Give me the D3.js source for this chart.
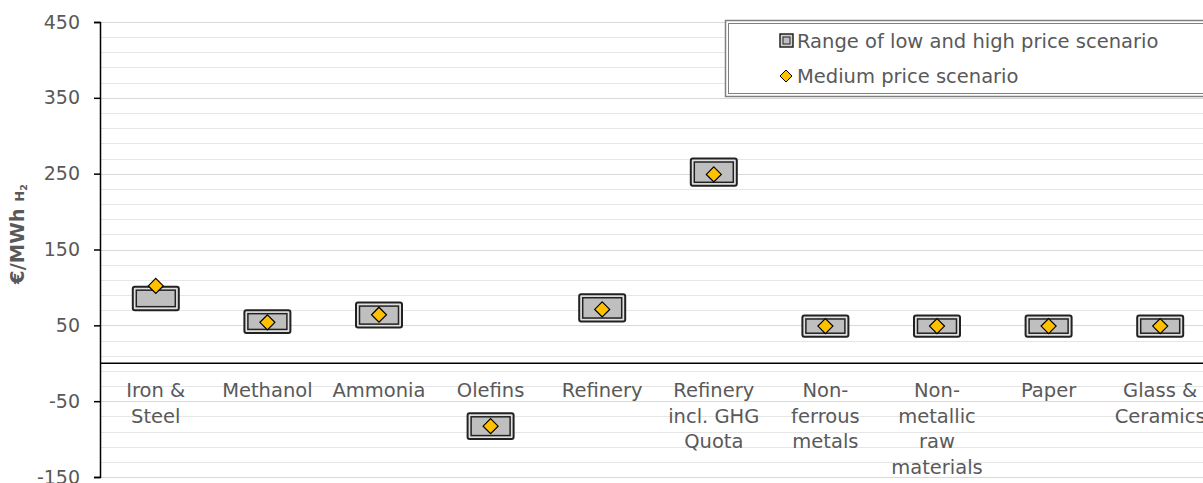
<!DOCTYPE html>
<meta charset="utf-8">
<head>
  <title>Hydrogen willingness to pay</title>
</head>
<style>
  body { margin: 0; background: #fff; }
  text { font-family: "DejaVu Sans", "Open Sans", sans-serif; fill: #595959; }
</style>
<body>
  <svg width="1203" height="483"></svg>

  <script src="https://cdnjs.cloudflare.com/ajax/libs/d3/7.8.5/d3.min.js"></script>
  <script>
  // categories, low/high range and medium scenario (EUR/MWh H2)
  var categories = ["Iron &\nSteel", "Methanol", "Ammonia", "Olefins", "Refinery",
    "Refinery\nincl. GHG\nQuota", "Non-\nferrous\nmetals", "Non-\nmetallic\nraw\nmaterials",
    "Paper", "Glass &\nCeramics"];
  var lowPrice = [70, 40, 47, -100, 55, 234, 35, 35, 35, 35];
  var highPrice = [101, 70, 80, -66, 91, 270, 63, 63, 63, 63];
  var mediumPrice = [102, 54, 64, -83, 71, 249, 49, 49, 49, 49];
  var yTicks = [-150, -50, 50, 150, 250, 350, 450];

  var svg = d3.select('svg');

  var x = d3.scaleBand().domain(categories).range([100, 1216]).padding(0);
  var y = d3.scaleLinear().domain([-150, 450]).range([477, 22]);

  // gridlines: minor every 20, major at ticks
  var minor = d3.range(-150, 451, 20);
  svg.append('g').selectAll('line')
    .data(minor)
    .enter().append('line')
    .attr('x1', 100).attr('x2', 1203)
    .attr('y1', function(d) { return Math.round(y(d)) + 0.5; })
    .attr('y2', function(d) { return Math.round(y(d)) + 0.5; })
    .attr('stroke', '#e6e6e6').attr('stroke-width', 1);

  svg.append('g').selectAll('line')
    .data(yTicks)
    .enter().append('line')
    .attr('x1', 100).attr('x2', 1203)
    .attr('y1', function(d) { return Math.round(y(d)) + 0.5; })
    .attr('y2', function(d) { return Math.round(y(d)) + 0.5; })
    .attr('stroke', '#d9d9d9').attr('stroke-width', 1.2);

  // y axis
  var yAxis = d3.axisLeft(y).tickValues(yTicks).tickSize(6).tickPadding(14)
    .tickFormat(function(d) { return String(d); });
  var ga = svg.append('g').attr('transform', 'translate(100,0)').call(yAxis);
  ga.select('.domain').attr('stroke', '#000').attr('stroke-width', 1.5);
  ga.selectAll('.tick line').attr('stroke', '#000').attr('stroke-width', 1.5);
  ga.selectAll('.tick text').style('font-size', '19px').style('font-family', '"DejaVu Sans", sans-serif').attr('fill', '#595959');

  // zero line
  svg.append('line')
    .attr('x1', 100).attr('x2', 1203)
    .attr('y1', y(0)).attr('y2', y(0))
    .attr('stroke', '#000').attr('stroke-width', 1.5);

  // y title
  var yt = svg.append('text')
    .attr('transform', 'translate(24,' + 234 + ') rotate(-90)')
    .attr('text-anchor', 'middle')
    .style('font-size', '19.5px').style('font-weight', 'bold');
  yt.append('tspan').text('€/MWh ');
  yt.append('tspan').style('font-size', '13px').text('H');
  yt.append('tspan').style('font-size', '9.5px').attr('dy', 3).text('2');

  // category labels
  var lab = svg.append('g').selectAll('text')
    .data(categories)
    .enter().append('text')
    .attr('text-anchor', 'middle')
    .style('font-size', '19.5px');
  lab.each(function(d) {
    var t = d3.select(this);
    d.split('\n').forEach(function(s, i) {
      t.append('tspan')
        .attr('x', x(d) + x.bandwidth() / 2)
        .attr('y', 397 + i * 25.5)
        .text(s);
    });
  });

  // range boxes (double border)
  var bw = 46;
  var boxes = svg.append('g').selectAll('g')
    .data(categories)
    .enter().append('g');
  boxes.append('rect')
    .attr('x', function(d) { return x(d) + x.bandwidth() / 2 - bw / 2; })
    .attr('y', function(d, i) { return y(highPrice[i]); })
    .attr('width', bw)
    .attr('height', function(d, i) { return y(lowPrice[i]) - y(highPrice[i]); })
    .attr('rx', 2)
    .attr('fill', '#e0e0e0').attr('stroke', '#222').attr('stroke-width', 2);
  boxes.append('rect')
    .attr('x', function(d) { return x(d) + x.bandwidth() / 2 - bw / 2 + 3.5; })
    .attr('y', function(d, i) { return y(highPrice[i]) + 3.5; })
    .attr('width', bw - 7)
    .attr('height', function(d, i) { return y(lowPrice[i]) - y(highPrice[i]) - 7; })
    .attr('fill', '#bfbfbf').attr('stroke', '#222').attr('stroke-width', 1.5);

  // medium scenario diamonds
  var ds = 7.5;
  svg.append('g').selectAll('path')
    .data(categories)
    .enter().append('path')
    .attr('transform', function(d, i) {
      return 'translate(' + (x(d) + x.bandwidth() / 2) + ',' + y(mediumPrice[i]) + ')';
    })
    .attr('d', 'M0,' + (-ds) + 'L' + ds + ',0L0,' + ds + 'L' + (-ds) + ',0Z')
    .attr('fill', '#ffc000').attr('stroke', '#000').attr('stroke-width', 1.2);

  // legend
  var lg = svg.append('g');
  lg.append('rect').attr('x', 725.5).attr('y', 20.5).attr('width', 500).attr('height', 76)
    .attr('fill', '#fff').attr('stroke', '#808080').attr('stroke-width', 1.5);
  lg.append('rect').attr('x', 728.5).attr('y', 23.5).attr('width', 500).attr('height', 70)
    .attr('fill', 'none').attr('stroke', '#808080').attr('stroke-width', 1);
  lg.append('rect').attr('x', 780).attr('y', 34).attr('width', 13).attr('height', 13)
    .attr('fill', '#d0d0d0').attr('stroke', '#222').attr('stroke-width', 1.5);
  lg.append('rect').attr('x', 783).attr('y', 37).attr('width', 7).attr('height', 7)
    .attr('fill', '#bfbfbf').attr('stroke', '#222').attr('stroke-width', 1);
  lg.append('path').attr('transform', 'translate(786,76)')
    .attr('d', 'M0,-6L6,0L0,6L-6,0Z')
    .attr('fill', '#ffc000').attr('stroke', '#000').attr('stroke-width', 1);
  lg.append('text').attr('x', 797).attr('y', 48).style('font-size', '19.5px')
    .text('Range of low and high price scenario');
  lg.append('text').attr('x', 797).attr('y', 83).style('font-size', '19.5px')
    .text('Medium price scenario');
  </script>
</body>
